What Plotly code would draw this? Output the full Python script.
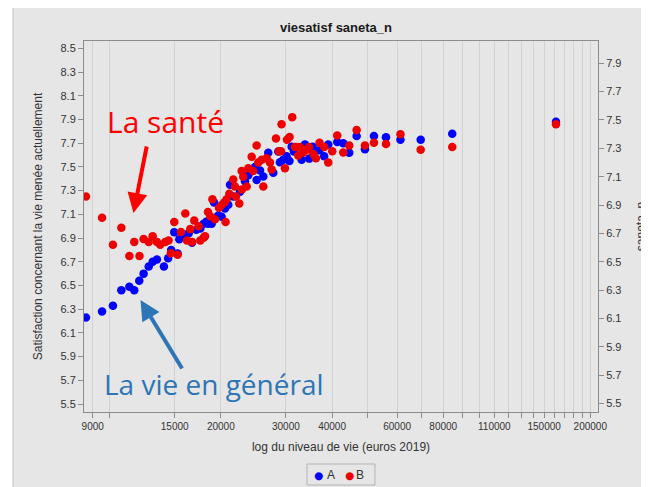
import plotly.graph_objects as go

# ---- data ----
income_A = [8630, 9540, 10210, 10760, 11310, 11660, 12030, 12360, 12760, 13080,
            13430, 14030, 14400, 14680, 14960, 15280, 15440, 15870, 16370, 16710,
            17160, 17600, 17970, 18310, 18460, 18890, 19170, 19680, 20100, 20520,
            20950, 21180, 21610, 22540, 23250, 23730, 24740, 25000, 25530, 26060,
            26880, 27730, 28610, 28910, 29510, 30140, 30670, 31100, 31550, 33090,
            33790, 34700, 35450, 36950, 38080, 39060, 41320, 42890, 44520, 46630,
            49100, 51930, 55980, 61270, 69500, 84600, 161500]
viesatisf_A = [6.23, 6.28, 6.33, 6.46, 6.49, 6.46, 6.54, 6.60, 6.66, 6.70,
               6.72, 6.66, 6.73, 6.80, 6.95, 6.77, 6.89, 6.91, 6.94, 6.86,
               6.97, 6.98, 7.02, 7.04, 7.02, 7.02, 7.20, 7.09, 7.08, 7.15,
               7.18, 7.35, 7.25, 7.29, 7.38, 7.43, 7.50, 7.39, 7.47, 7.42,
               7.62, 7.45, 7.63, 7.54, 7.56, 7.59, 7.55, 7.67, 7.63, 7.56,
               7.69, 7.57, 7.67, 7.64, 7.59, 7.69, 7.71, 7.70, 7.62, 7.76,
               7.65, 7.76, 7.75, 7.73, 7.73, 7.78, 7.88]

income_B = [8630, 9540, 10210, 10760, 11310, 11660, 12050, 12360, 12760, 13080,
            13430, 13710, 14150, 14440, 14650, 14960, 15280, 15600, 16030, 16200,
            16530, 16710, 16950, 17420, 17600, 17970, 18120, 18460, 18730, 18980,
            19290, 19770, 20100, 20450, 20600, 20740, 21080, 21610, 21840, 21980,
            22440, 22770, 22800, 23000, 23500, 23730, 24240, 24480, 25000, 25260,
            25800, 26060, 26610, 27160, 27450, 28200, 28730, 29090, 29200, 29820,
            30200, 30700, 31210, 31740, 32080, 32390, 32740, 33430, 34150, 34640,
            35580, 36180, 37000, 38100, 39060, 40050, 41320, 42890, 44520, 46630,
            49100, 51930, 55980, 61270, 69500, 84600, 161500]
saneta_B = [6.96, 6.81, 6.62, 6.74, 6.54, 6.64, 6.54, 6.66, 6.64, 6.68,
            6.64, 6.62, 6.64, 6.65, 6.56, 6.78, 6.55, 6.71, 6.84, 6.65,
            6.73, 6.64, 6.79, 6.75, 6.65, 6.67, 6.68, 6.85, 6.82, 6.94,
            6.80, 6.88, 6.90, 6.92, 6.78, 6.94, 6.98, 7.08, 7.03, 6.96,
            6.91, 7.14, 7.01, 7.10, 7.03, 7.16, 7.24, 7.14, 7.32, 7.20,
            7.22, 7.03, 7.23, 7.20, 7.15, 7.37, 7.28, 7.28, 7.47, 7.16,
            7.36, 7.38, 7.52, 7.31, 7.31, 7.25, 7.31, 7.27, 7.29, 7.31,
            7.26, 7.23, 7.34, 7.31, 7.20, 7.28, 7.39, 7.27, 7.32, 7.43,
            7.32, 7.34, 7.33, 7.40, 7.29, 7.31, 7.47]

x_tickvals = [9000, 10000, 15000, 20000, 30000, 40000, 50000, 60000, 70000, 80000,
              90000, 100000, 110000, 120000, 130000, 140000, 150000, 160000,
              170000, 180000, 190000, 200000]
x_labelled = [9000, 15000, 20000, 30000, 40000, 60000, 80000, 110000, 150000, 200000]
x_ticktext = [str(v) if v in x_labelled else "" for v in x_tickvals]

y_left_ticks = [5.5, 5.7, 5.9, 6.1, 6.3, 6.5, 6.7, 6.9, 7.1, 7.3, 7.5, 7.7, 7.9, 8.1, 8.3, 8.5]
y_right_ticks = [5.5, 5.7, 5.9, 6.1, 6.3, 6.5, 6.7, 6.9, 7.1, 7.3, 7.5, 7.7, 7.9]

series_names = ["A", "B"]
series_colors = ["#0000ff", "#ee0000"]

BG = "#e6e6e6"
FONT = "Liberation Sans"

fig = go.Figure()
fig.add_trace(go.Scatter(x=income_A, y=viesatisf_A, mode="markers", name=series_names[0],
                         marker=dict(color=series_colors[0], size=8.5), yaxis="y"))
fig.add_trace(go.Scatter(x=income_B, y=saneta_B, mode="markers", name=series_names[1],
                         marker=dict(color=series_colors[1], size=8.5), yaxis="y2"))

axis_common = dict(showline=True, linecolor="#8c8c8c", linewidth=1, ticks="outside",
                   ticklen=5, tickcolor="#8c8c8c", zeroline=False,
                   tickfont=dict(family=FONT, size=11, color="#333333"))

# compact legend box drawn below the plot (paper coordinates)
legend_y = -0.17
legend_items = [
    dict(text="●", x=0.4553, font=dict(family="DejaVu Sans", size=10.5, color=series_colors[0])),
    dict(text=series_names[0], x=0.4796, font=dict(family=FONT, size=12, color="#333333")),
    dict(text="●", x=0.5156, font=dict(family="DejaVu Sans", size=10.5, color=series_colors[1])),
    dict(text=series_names[1], x=0.5370, font=dict(family=FONT, size=12, color="#333333")),
]
legend_annotations = [dict(xref="paper", yref="paper", y=legend_y, showarrow=False,
                           xanchor="center", yanchor="middle", **it) for it in legend_items]

W, H = 641, 479
fig.update_layout(
    width=W, height=H,
    margin=dict(l=76, r=51, t=33, b=75, autoexpand=False),
    paper_bgcolor="white", plot_bgcolor=BG,
    font=dict(family=FONT, color="#333333"),
    title=dict(text="<b>viesatisf saneta_n</b>", x=328 / W, xref="container",
               y=1 - 19 / H, yref="container", yanchor="middle", xanchor="center",
               font=dict(family=FONT, size=13, color="#1a1a1a")),
    xaxis=dict(type="log", range=[3.9307, 5.3219], tickvals=x_tickvals, ticktext=x_ticktext,
               showgrid=True, gridcolor="#d2d2d2", gridwidth=1, mirror=True,
               title=dict(text="log du niveau de vie (euros 2019)", standoff=11,
                          font=dict(family=FONT, size=12, color="#333333")),
               **{**axis_common, "tickfont": dict(family=FONT, size=10, color="#333333")}),
    yaxis=dict(range=[5.433, 8.562], tickvals=y_left_ticks, tickformat=".1f",
               showgrid=False, mirror=True,
               title=dict(text="Satisfaction concernant la vie menée actuellement", standoff=15,
                          font=dict(family=FONT, size=12, color="#333333")),
               **axis_common),
    yaxis2=dict(range=[5.44, 8.057], tickvals=y_right_ticks, tickformat=".1f",
                overlaying="y", side="right", showgrid=False,
                title=dict(text="saneta_n", standoff=16,
                           font=dict(family=FONT, size=12, color="#333333")),
                **axis_common),
    showlegend=False,
    shapes=[dict(type="rect", xref="paper", yref="paper", layer="below",
                 x0=-0.1381, x1=1.12, y0=-0.22, y1=1.12,
                 fillcolor=BG, line=dict(color="#c4c4c4", width=1)),
            dict(type="rect", xref="paper", yref="paper", layer="below",
                 x0=0.4339, x1=0.5661, y0=-0.1968, y1=-0.1402,
                 fillcolor=BG, line=dict(color="#b4b4b4", width=1))],
    annotations=[
        dict(text="La santé", xref="paper", yref="paper", x=0.1576, y=0.784,
             xanchor="center", yanchor="middle",
             showarrow=False, font=dict(family="Open Sans", size=30, color="#ff0000")),
        dict(text="La vie en général", xref="paper", yref="paper", x=0.2529, y=0.0755,
             xanchor="center", yanchor="middle",
             showarrow=False, font=dict(family="Open Sans", size=28, color="#2e75b6")),
        dict(text="", xref="paper", yref="paper", x=0.0963, y=0.5364,
             ax=13.5, ay=-68, showarrow=True, arrowhead=2, arrowsize=1,
             arrowwidth=4, arrowcolor="#ff0000"),
        dict(text="", xref="paper", yref="paper", x=0.1099, y=0.3019,
             ax=42.5, ay=70, showarrow=True, arrowhead=2, arrowsize=1,
             arrowwidth=4, arrowcolor="#2e75b6"),
    ] + legend_annotations,
)

fig.write_html("out.html")
